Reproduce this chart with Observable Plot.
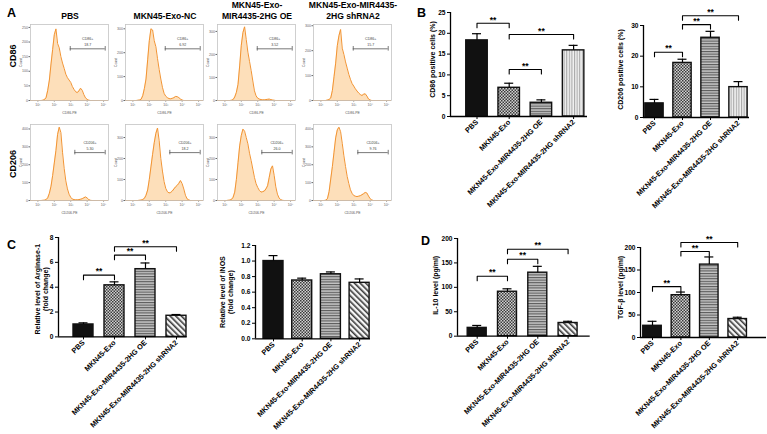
<!DOCTYPE html>
<html><head><meta charset="utf-8">
<script src="https://cdn.jsdelivr.net/npm/d3@7"></script>
<script src="https://cdn.jsdelivr.net/npm/@observablehq/plot@0.6"></script>
<style>
body{margin:0;background:#fff;}
#fig{position:relative;width:767px;height:434px;overflow:hidden;background:#fff;}
.bar g[aria-label^="x-axis"] text{font-size:7.3px;}
.bar g[aria-label^="y-axis"] text{font-size:6.6px;}
</style></head><body><div id="fig"></div>
<script>
// ---------------- DATA ----------------
const groups = ["PBS", "MKN45-Exo", "MKN45-Exo-MIR4435-2HG OE", "MKN45-Exo-MIR4435-2HG shRNA2"];
const flowColumns = ["PBS", "MKN45-Exo-NC", "MKN45-Exo-\nMIR4435-2HG OE", "MKN45-Exo-MIR4435-\n2HG shRNA2"];
const flowRows = ["CD86", "CD206"];
const flowAxisLabels = ["CD86-PE", "CD206-PE"];
const flowLogX = [1.0,1.1,1.2,1.3,1.4,1.5,1.6,1.7,1.8,1.9,2.0,2.1,2.2,2.3,2.4,2.5,2.6,2.7,2.8,2.9,3.0,3.1,3.2,3.3,3.4,3.5,3.6,3.7,3.8,3.9,4.0,4.1,4.2,4.3,4.4,4.5,4.6];
const cd86PBS  = [0,0,0,1,3,10,35,70,125,175,225,245,195,180,150,128,110,90,78,70,62,48,38,30,27,33,42,35,20,9,4,1,0,0,0,0,0];
const cd86NC   = [0,0,0,1,2,5,20,50,90,170,250,300,295,250,225,175,130,90,55,30,18,12,8,7,9,12,17,16,12,6,2,0,0,0,0,0,0];
const cd86OE   = [0,0,0,0,1,4,15,35,70,150,240,295,320,265,210,170,130,85,42,20,10,6,4,3,3,4,5,6,4,2,1,0,0,0,0,0,0];
const cd86Sh   = [0,0,0,0,2,4,10,40,95,150,220,260,285,210,185,155,130,105,85,68,58,47,38,30,24,20,25,27,18,6,2,0,0,0,0,0,0];
const cd206PBS = [0,0,0,1,2,5,15,40,80,140,210,280,370,410,380,270,180,110,65,35,18,8,5,4,4,5,7,10,15,20,14,5,1,0,0,0,0];
const cd206NC  = [0,0,0,0,1,2,5,10,25,50,100,160,220,275,320,345,285,200,140,90,58,42,36,38,45,55,65,72,82,95,80,55,25,8,3,0,0];
const cd206OE  = [0,0,1,2,5,15,40,100,180,260,310,340,330,300,270,225,190,150,110,80,62,48,40,42,45,55,70,110,150,165,120,65,30,12,4,1,0];
const cd206Sh  = [0,0,0,2,10,50,120,190,270,350,395,410,385,320,250,190,135,95,60,40,28,24,22,24,27,32,38,45,42,25,10,3,0,0,0,0,0];
const flowXTicks = [1,2,3,4,5];
const cd86YMax = [260, 318, 330, 305];
const cd206YMax = [425, 362, 362, 425];
const cd86YTicks = [[0,50,100,150,200,250],[0,100,200,300],[0,100,200,300],[0,100,200,300]];
const cd206YTicks = [[0,100,200,300,400],[0,100,200,300],[0,100,200,300],[0,100,200,300,400]];
const gateNames = ["CD86+", "CD206+"];
const cd86GateValues = ["18.7", "6.92", "3.52", "15.7"];
const cd206GateValues = ["5.30", "18.2", "26.0", "9.76"];
const cd86Gate = [2.97, 5.1];
const cd206Gate = [3.25, 5.1];

const cd86Pct = [18.3, 6.9, 3.3, 15.9];
const cd86PctErr = [1.6, 1.1, 0.7, 1.2];
const cd86Sig = [[0, 1, 22.4], [1, 3, 19.7], [1, 2, 11.3]];
const cd206Pct = [4.6, 17.8, 26.0, 9.9];
const cd206PctErr = [1.3, 1.2, 2.1, 1.8];
const cd206Sig = [[0, 1, 21.3], [1, 2, 30.3], [1, 3, 33.2]];
const arg1 = [1.0, 4.15, 5.45, 1.7];
const arg1Err = [0.13, 0.28, 0.5, 0.1];
const arg1Sig = [[0, 1, 4.97], [1, 2, 6.58], [1, 3, 7.25]];
const inos = [1.0, 0.75, 0.83, 0.72];
const inosErr = [0.07, 0.03, 0.03, 0.05];
const il10 = [17, 91, 130, 27];
const il10Err = [5, 6, 13, 3.5];
const il10Sig = [[0, 1, 122.8], [1, 2, 157.6], [1, 3, 178]];
const tgfb = [26, 94, 162, 41];
const tgfbErr = [10, 7, 17, 4];
const tgfbSig = [[0, 1, 113], [1, 2, 191], [1, 3, 211]];

// ---------------- RENDER ----------------
const FONT = '"Liberation Sans", Arial, Helvetica, sans-serif';
const fig = document.getElementById("fig");
fig.insertAdjacentHTML("beforeend", `<svg width="0" height="0" style="position:absolute;left:0;top:0"><defs>
<pattern id="patCheck" patternUnits="userSpaceOnUse" width="3" height="3"><rect width="3" height="3" fill="#d2d2d2"/><rect width="1.5" height="1.5" fill="#3a3a3a"/><rect x="1.5" y="1.5" width="1.5" height="1.5" fill="#3a3a3a"/></pattern>
<pattern id="patH" patternUnits="userSpaceOnUse" width="4" height="2.6"><rect width="4" height="2.6" fill="#c4c4c4"/><rect width="4" height="1.1" fill="#5a5a5a"/></pattern>
<pattern id="patV" patternUnits="userSpaceOnUse" width="2.6" height="4"><rect width="2.6" height="4" fill="#f2f2f2"/><rect width="1.1" height="4" fill="#a8a8a8"/></pattern>
<pattern id="patDiag" patternUnits="userSpaceOnUse" width="4" height="4" patternTransform="rotate(-45)"><rect width="4" height="4" fill="#f6f6f6"/><rect width="1.6" height="4" fill="#3c3c3c"/></pattern>
</defs></svg>`);

function place(el, left, top, cls) {
  el.style.position = "absolute";
  el.style.left = left + "px";
  el.style.top = top + "px";
  if (cls) el.classList.add(cls);
  fig.appendChild(el);
}

const sup = {1: "¹", 2: "²", 3: "³", 4: "⁴", 5: "⁵"};
const boxLefts = [30, 125, 217, 313], boxTops = [24, 124], boxW = 78, boxH = 76;

function flowPanel(row, col, counts, ymax, yticks, gate, gateVal) {
  const rows = flowLogX.map((x, i) => ({x, c: counts[i]}));
  const mL = 14, mT = 3, mR = 3, mB = 20;
  const gy = ymax * (row === 0 ? 0.68 : 0.63);
  const t = ymax * 0.03;
  const svg = Plot.plot({
    width: mL + boxW + mR, height: mT + boxH + mB,
    marginLeft: mL, marginTop: mT, marginRight: mR, marginBottom: mB,
    style: {background: "transparent", fontFamily: FONT, fontSize: "3.6px", color: "#666", overflow: "visible"},
    x: {domain: [0.55, 5.3], ticks: flowXTicks, tickFormat: d => "10" + sup[d], tickSize: 1.5, tickPadding: 1.2, label: null},
    y: {domain: [0, ymax], ticks: yticks, tickSize: 1.5, tickPadding: 1, label: null},
    marks: [
      Plot.areaY(rows, {x: "x", y: "c", fill: "#fddfba"}),
      Plot.ruleY([0], {stroke: "#f39a3a", strokeWidth: 1}),
      Plot.lineY(rows, {x: "x", y: "c", stroke: "#f29433", strokeWidth: 1}),
      Plot.frame({stroke: "#c4c4c4", strokeWidth: 0.8}),
      Plot.ruleY([gy], {x1: gate[0], x2: gate[1], stroke: "#555", strokeWidth: 0.8}),
      Plot.ruleX(gate, {y1: gy - t, y2: gy + t, stroke: "#555", strokeWidth: 0.8}),
      Plot.text([gateNames[row] + "\n" + gateVal], {x: (gate[0] + gate[1]) / 2, y: gy, dy: -3, lineAnchor: "bottom", lineHeight: 1.5, fontSize: 3.6, fill: "#444"}),
      Plot.text(["Count"], {frameAnchor: "left", textAnchor: "middle", rotate: -90, dx: -9.5, fontSize: 3.4, fill: "#555"}),
      Plot.text([flowAxisLabels[row]], {frameAnchor: "bottom", dy: 13.5, fontSize: 3.4, fill: "#555"})
    ]
  });
  place(svg, boxLefts[col] - mL, boxTops[row] - mT);
}
[cd86PBS, cd86NC, cd86OE, cd86Sh].forEach((c, j) => flowPanel(0, j, c, cd86YMax[j], cd86YTicks[j], cd86Gate, cd86GateValues[j]));
[cd206PBS, cd206NC, cd206OE, cd206Sh].forEach((c, j) => flowPanel(1, j, c, cd206YMax[j], cd206YTicks[j], cd206Gate, cd206GateValues[j]));

function barPanel(o) {
  const mL = 45, mR = 4, mT = 26, mB = 112;
  const lo = (o.x0 - o.c0) / o.s, hi = (o.x1 - o.c0) / o.s;
  const rows = groups.map((g, i) => ({i, g, v: o.values[i], e: o.errs[i], pat: o.pats[i]}));
  const hw = o.bw / (2 * o.s), cap = 4.5 / o.s;
  const pxPerUnit = (o.bottom - o.top) / o.ymax;
  const drop = 4.5 / pxPerUnit;
  const sig = o.sig || [];
  const sigLines = sig.flatMap(([a, b, l], k) => [{k, x: a, y: l - drop}, {k, x: a, y: l}, {k, x: b, y: l}, {k, x: b, y: l - drop}]);
  const svg = Plot.plot({
    width: mL + (o.x1 - o.x0) + mR, height: mT + (o.bottom - o.top) + mB,
    marginLeft: mL, marginRight: mR, marginTop: mT, marginBottom: mB,
    style: {background: "transparent", fontFamily: FONT, fontWeight: "bold", fontSize: "7px", color: "#000", overflow: "visible"},
    x: {type: "linear", domain: [lo, hi], ticks: [0, 1, 2, 3], tickFormat: i => groups[i], tickRotate: -45, tickSize: 3, tickPadding: 1.5, label: null},
    y: {domain: [0, o.ymax], ticks: o.ticks, tickFormat: o.fmt, tickSize: 3, tickPadding: 2, label: null},
    color: {type: "identity"},
    marks: [
      Plot.rect(rows, {x1: d => d.i - hw, x2: d => d.i + hw, y1: 0, y2: "v", fill: "pat", stroke: "#111", strokeWidth: 1.4}),
      Plot.ruleX(rows, {x: "i", y1: "v", y2: d => d.v + d.e, strokeWidth: 1.2}),
      Plot.ruleY(rows, {y: d => d.v + d.e, x1: d => d.i - cap, x2: d => d.i + cap, strokeWidth: 1.2}),
      Plot.ruleY([0], {strokeWidth: 1.3}),
      Plot.ruleX([lo], {y1: 0, y2: o.ymax, strokeWidth: 1.3}),
      Plot.line(sigLines, {x: "x", y: "y", z: "k", strokeWidth: 1.1}),
      Plot.text(sig, {x: d => (d[0] + d[1]) / 2, y: d => d[2], text: () => "**", dy: -3.5, fontSize: 8.5, fontWeight: "bold"}),
      Plot.text([o.label], {frameAnchor: "left", textAnchor: "middle", rotate: -90, dx: o.ldx, dy: o.ldy, fontSize: 7, lineHeight: 1.15})
    ]
  });
  place(svg, o.x0 - mL, o.top - mT, "bar");
}

const P = ["#111", "url(#patCheck)", "url(#patH)"];
barPanel({x0: 450, x1: 587, c0: 476.5, s: 32.2, bw: 21.5, top: 12, bottom: 116, ymax: 25, ticks: [0,5,10,15,20,25],
  values: cd86Pct, errs: cd86PctErr, pats: [...P, "url(#patV)"], sig: cd86Sig, label: "CD86 positive cells (%)", ldx: -18, ldy: -5});
barPanel({x0: 643, x1: 749, c0: 654, s: 28, bw: 18.3, top: 25, bottom: 117, ymax: 30, ticks: [0,10,20,30],
  values: cd206Pct, errs: cd206PctErr, pats: [...P, "url(#patV)"], sig: cd206Sig, label: "CD206 positive cells (%)", ldx: -23, ldy: -2});
barPanel({x0: 58.3, x1: 187, c0: 83.3, s: 31, bw: 20, top: 237.3, bottom: 336.7, ymax: 8, ticks: [0,2,4,6,8],
  values: arg1, errs: arg1Err, pats: [...P, "url(#patDiag)"], sig: arg1Sig, label: "Relative level of Arginase-1\n(fold change)", ldx: -17, ldy: 2});
barPanel({x0: 255, x1: 370, c0: 273, s: 28.7, bw: 20, top: 245, bottom: 338.3, ymax: 1.2, ticks: [0,0.2,0.4,0.6,0.8,1.0,1.2], fmt: d3.format(".1f"),
  values: inos, errs: inosErr, pats: [...P, "url(#patDiag)"], sig: [], label: "Relative level of iNOS\n(fold change)", ldx: -29, ldy: 0});
barPanel({x0: 457.3, x1: 590, c0: 477, s: 30.3, bw: 19, top: 238.3, bottom: 336, ymax: 200, ticks: [0,50,100,150,200],
  values: il10, errs: il10Err, pats: [...P, "url(#patDiag)"], sig: il10Sig, label: "IL-10 level (pg/ml)", ldx: -22, ldy: -2});
barPanel({x0: 640, x1: 766, c0: 652, s: 28.4, bw: 18.5, top: 246.7, bottom: 336.7, ymax: 200, ticks: [0,50,100,150,200],
  values: tgfb, errs: tgfbErr, pats: [...P, "url(#patDiag)"], sig: tgfbSig, label: "TGF-β level (pg/ml)", ldx: -20, ldy: -5});

// ---------------- ANNOTATIONS ----------------
const ov = d3.create("svg").attr("width", 767).attr("height", 434)
  .style("position", "absolute").style("left", "0px").style("top", "0px").style("overflow", "visible")
  .attr("font-family", FONT).attr("font-weight", "bold");
const colCenters = boxLefts.map(l => l + boxW / 2 + 1);
flowColumns.forEach((txt, j) => {
  const lines = txt.split("\n");
  lines.forEach((ln, k) => {
    const y = lines.length === 1 ? 18.5 : 7.5 + 11 * k;
    ov.append("text").attr("x", colCenters[j]).attr("y", y).attr("text-anchor", "middle").attr("font-size", 8.6).text(ln);
  });
});
const rowCenters = [56, 164];
flowRows.forEach((r, i) => {
  ov.append("text").attr("transform", `translate(15.5,${rowCenters[i]}) rotate(-90)`).attr("text-anchor", "middle").attr("font-size", 9).text(r);
});
[["A", 7, 17], ["B", 417, 17], ["C", 7, 249], ["D", 421, 245]].forEach(([s, x, y]) => {
  ov.append("text").attr("x", x).attr("y", y).attr("font-size", 12.5).text(s);
});
fig.appendChild(ov.node());
</script></body></html>
